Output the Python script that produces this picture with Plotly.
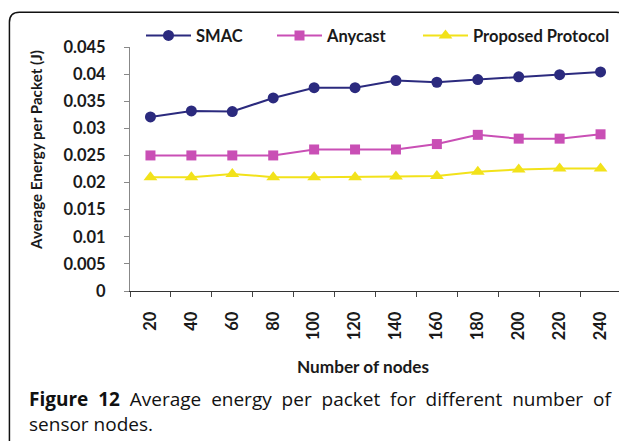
import plotly.graph_objects as go

nodes = ["20", "40", "60", "80", "100", "120", "140", "160", "180", "200", "220", "240"]
smac = [0.0321, 0.0332, 0.0331, 0.0356, 0.0375, 0.0375, 0.0388, 0.0385, 0.0390, 0.0395, 0.0399, 0.0404]
anycast = [0.0250, 0.0250, 0.0250, 0.0250, 0.0261, 0.0261, 0.0261, 0.0271, 0.0288, 0.0281, 0.0281, 0.0289]
proposed = [0.0210, 0.0210, 0.0216, 0.0210, 0.0210, 0.0210, 0.0211, 0.0212, 0.0220, 0.0224, 0.0226, 0.0226]
ytick_vals = [0, 0.005, 0.01, 0.015, 0.02, 0.025, 0.03, 0.035, 0.04, 0.045]
ytick_text = ["0", "0.005", "0.01", "0.015", "0.02", "0.025", "0.03", "0.035", "0.04", "0.045"]

# page offset (browser body margin) compensation
OFF = 8
W, H = 627, 441
# plot area in screen pixels: x 130..620.7, y 46.7..290.7
L = 130 - OFF
T = 46.7 - OFF
R = W - (620.7 - OFF)
B = H - (290.7 - OFF)
PW, PH = W - L - R, H - T - B

def px(x):
    """screen x (reference pixels) -> paper x"""
    return (x - OFF - L) / PW

def py(y):
    """screen y (reference pixels) -> paper y"""
    return (H - B - (y - OFF)) / PH

FONT = "Lato"
TXT = "#1a1a1a"

fig = go.Figure()
series = [
    ("SMAC", smac, "#2b2a7e", "circle", 11, "legend"),
    ("Anycast", anycast, "#c94fb5", "square", 10, "legend2"),
    ("Proposed Protocol", proposed, "#f2e21a", "triangle-up", 12, "legend3"),
]
for name, vals, col, sym, sz, lg in series:
    fig.add_trace(go.Scatter(
        x=nodes, y=vals, name=name, mode="lines+markers",
        line=dict(color=col, width=2),
        marker=dict(color=col, symbol=sym, size=sz),
        legend=lg,
    ))

leg_common = dict(orientation="h", xref="container", yref="container",
                  xanchor="left", yanchor="middle", y=1 - (35.7 - OFF) / H,
                  bgcolor="rgba(0,0,0,0)", itemwidth=45,
                  font=dict(family=FONT, size=16.5, color=TXT, weight="bold"))

fig.update_layout(
    width=W, height=H,
    margin=dict(l=L, r=R, t=T, b=B, autoexpand=False),
    paper_bgcolor="white", plot_bgcolor="white",
    showlegend=True,
    legend=dict(x=(196 - 55 - OFF) / W, **leg_common),
    legend2=dict(x=(327 - 55 - OFF) / W, **leg_common),
    legend3=dict(x=(473 - 55 - OFF) / W, **leg_common),
    xaxis=dict(
        type="category", range=[-0.5, len(nodes) - 0.5], autorange=False,
        tickson="boundaries", ticks="outside", ticklen=5,
        tickcolor="#444", showline=True, linecolor="#333", linewidth=1,
        showgrid=False, tickangle=-90, ticklabelstandoff=13,
        tickfont=dict(family=FONT, size=16.5, color=TXT, weight="bold"),
    ),
    yaxis=dict(
        range=[0, 0.045], autorange=False, tickvals=ytick_vals, ticktext=ytick_text,
        ticks="outside", ticklen=5, tickcolor="#888",
        showline=True, linecolor="#888", linewidth=1, showgrid=False,
        zeroline=False, ticklabelstandoff=15,
        tickfont=dict(family=FONT, size=16.5, color=TXT, weight="bold"),
    ),
)

# axis titles
fig.add_annotation(text="<b>Number of nodes</b>", xref="paper", yref="paper",
                   x=px(363), y=py(366), showarrow=False, xanchor="center", yanchor="middle",
                   font=dict(family=FONT, size=17.2, color=TXT))
fig.add_annotation(text="<b>Average Energy per Packet (J)</b>", xref="paper", yref="paper",
                   x=px(36.7), y=py(150), showarrow=False, textangle=-90,
                   xanchor="center", yanchor="middle",
                   font=dict(family=FONT, size=15.2, color=TXT))

# caption (first line justified by widened word gaps)
SP = " \u00a0"
line1 = "<b>Figure" + SP + "12</b>" + SP + SP.join("Average energy per packet for different number of".split(" "))
caption = line1 + "<br>sensor nodes."
fig.add_annotation(text=caption, align="left",
                   xref="paper", yref="paper", x=px(26.7), y=py(411), showarrow=False,
                   xanchor="left", yanchor="middle",
                   font=dict(family="Open Sans", size=19, color="#111"))

# rounded frame
r = 10
x0, y0, x1, y1 = 9.5, 12, 626, 470
path = (f"M {px(x0)},{py(y1)} L {px(x0)},{py(y0 + r)} "
        f"Q {px(x0)},{py(y0)} {px(x0 + r)},{py(y0)} "
        f"L {px(x1 - r)},{py(y0)} Q {px(x1)},{py(y0)} {px(x1)},{py(y0 + r)} "
        f"L {px(x1)},{py(y1)}")
fig.add_shape(type="path", path=path, xref="paper", yref="paper",
              line=dict(color="#111", width=1.5), layer="above")

fig.write_html("out.html")
